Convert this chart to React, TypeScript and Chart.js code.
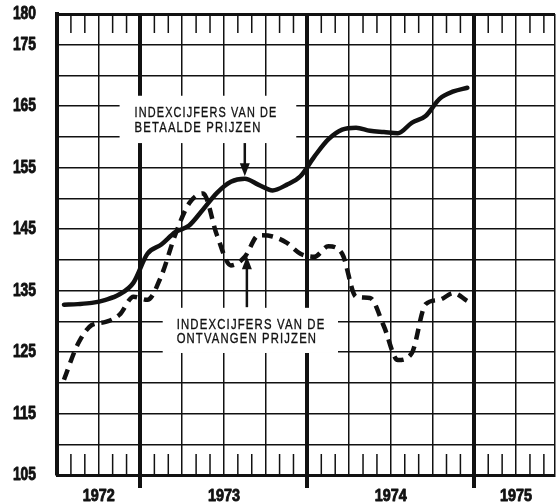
import React, { useEffect, useRef } from "react";
import { Chart, registerables } from "chart.js";

Chart.register(...registerables);

// Month positions (0 = 1 July 1972), one value per month, mid-month
const monthPos = [
  0.5, 1.5, 2.5, 3.5, 4.5, 5.5, 6.5, 7.5, 8.5, 9.5, 10.5, 11.5, 12.5, 13.5, 14.5,
  15.5, 16.5, 17.5, 18.5, 19.5, 20.5, 21.5, 22.5, 23.5, 24.5, 25.5, 26.5, 27.5, 28.5, 29.5,
];

// Indexcijfers van de betaalde prijzen (solid)
const betaaldePrijzen = [
  132.7, 132.8, 133.0, 133.5, 134.4, 136.3, 141.0, 142.5, 144.5, 145.6, 148.2, 150.9, 152.7, 153.2, 152.2,
  151.3, 152.2, 153.6, 156.8, 159.6, 161.2, 161.5, 161.0, 160.8, 160.6, 162.3, 163.4, 166.2, 167.4, 168.0,
];

// Indexcijfers van de ontvangen prijzen (dashed)
const ontvangenPrijzen = [
  120.5, 126.3, 129.4, 129.9, 131.1, 134.0, 133.5, 137.4, 144.1, 149.2, 150.8, 144.0, 139.1, 140.5, 144.0,
  143.8, 142.8, 141.0, 140.5, 142.2, 141.0, 134.0, 133.8, 129.2, 123.7, 124.8, 132.8, 133.5, 134.6, 133.3,
];

const yearLabels = ["1972", "1973", "1974", "1975"];
const yearLabelMonths = [3, 12, 24, 33];
const yearStartMonths = [6, 18, 30];
const yTickLabels = [105, 115, 125, 135, 145, 155, 165, 175, 180];
const yGridValues = [105, 110, 115, 120, 125, 130, 135, 140, 145, 150, 155, 160, 165, 170, 175, 180];

const captionBetaald = ["INDEXCIJFERS VAN DE", "BETAALDE PRIJZEN"];
const captionOntvangen = ["INDEXCIJFERS VAN DE", "ONTVANGEN PRIJZEN"];

const X_MIN = 0;
const X_MAX = 35.8;
const Y_MIN = 105;
const Y_MAX = 180;

const SANS = "'Liberation Sans', 'DejaVu Sans', sans-serif";
const INK = "#111";

type Caption = {
  lines: string[];
  box: [number, number, number, number];
  textLeft: number;
  textRights: number[];
  textYs: number[];
  arrowX: number;
  arrowFrom: number;
  arrowTo: number;
};

const captions: Caption[] = [
  {
    lines: captionBetaald,
    box: [4.5, 166.7, 17.2, 159.0],
    textLeft: 5.58,
    textRights: [15.85, 14.7],
    textYs: [163.9, 161.45],
    arrowX: 13.5,
    arrowFrom: 159.0,
    arrowTo: 153.6,
  },
  {
    lines: captionOntvangen,
    box: [7.6, 132.2, 20.2, 124.85],
    textLeft: 8.6,
    textRights: [19.3, 18.7],
    textYs: [129.4, 127.1],
    arrowX: 13.65,
    arrowFrom: 132.3,
    arrowTo: 140.6,
  },
];

// draw text squeezed horizontally to a given width
function squeezed(
  ctx: CanvasRenderingContext2D,
  text: string,
  x: number,
  y: number,
  width: number,
  align: "left" | "right" | "center",
  stroke = 0
) {
  const w = ctx.measureText(text).width;
  const sx = width / w;
  const left = align === "left" ? x : align === "right" ? x - width : x - width / 2;
  ctx.save();
  ctx.translate(left, y);
  ctx.scale(sx, 1);
  ctx.textAlign = "left";
  ctx.textBaseline = "middle";
  ctx.fillText(text, 0, 0);
  if (stroke > 0) {
    ctx.lineWidth = stroke;
    ctx.strokeStyle = INK;
    ctx.lineJoin = "round";
    ctx.strokeText(text, 0, 0);
  }
  ctx.restore();
}

const overlayPlugin = {
  id: "overlay",
  beforeDatasetsDraw(chart: any) {
    const { ctx, chartArea: a } = chart;
    const xs = chart.scales.x;
    const ys = chart.scales.y;
    ctx.save();
    ctx.strokeStyle = INK;
    ctx.fillStyle = INK;
    ctx.lineWidth = 1.5;
    // month tick marks in the top and bottom bands
    for (let m = 1; m < 36; m++) {
      if (m % 3 === 0) continue;
      const px = xs.getPixelForValue(m);
      if (px > a.right - 2) continue;
      ctx.beginPath();
      ctx.moveTo(px, a.top);
      ctx.lineTo(px, a.top + 19);
      ctx.moveTo(px, a.bottom - 21);
      ctx.lineTo(px, a.bottom);
      ctx.stroke();
    }
    for (const c of captions) {
      const bx1 = xs.getPixelForValue(c.box[0]);
      const by1 = ys.getPixelForValue(c.box[1]);
      const bx2 = xs.getPixelForValue(c.box[2]);
      const by2 = ys.getPixelForValue(c.box[3]);
      ctx.fillStyle = "#fff";
      ctx.fillRect(bx1, by1, bx2 - bx1, by2 - by1);
      ctx.fillStyle = INK;
      ctx.font = `14.5px ${SANS}`;
      (ctx as any).letterSpacing = "1.5px";
      c.lines.forEach((line, i) => {
        const left = xs.getPixelForValue(c.textLeft);
        const right = xs.getPixelForValue(c.textRights[i]);
        const yc = ys.getPixelForValue(c.textYs[i]);
        squeezed(ctx, line, left, yc, right - left, "left", 0.35);
      });
      (ctx as any).letterSpacing = "0px";
      // arrow
      const ax = xs.getPixelForValue(c.arrowX);
      const ay1 = ys.getPixelForValue(c.arrowFrom);
      const ay2 = ys.getPixelForValue(c.arrowTo);
      const dir = ay2 > ay1 ? 1 : -1;
      ctx.strokeStyle = INK;
      ctx.lineWidth = 2.5;
      ctx.beginPath();
      ctx.moveTo(ax, ay1);
      ctx.lineTo(ax, ay2 - dir * 10);
      ctx.stroke();
      ctx.beginPath();
      ctx.moveTo(ax, ay2);
      ctx.lineTo(ax - 5, ay2 - dir * 13);
      ctx.lineTo(ax + 5, ay2 - dir * 13);
      ctx.closePath();
      ctx.fill();
      ctx.lineWidth = 1.5;
    }
    ctx.restore();
  },
  afterDraw(chart: any) {
    const { ctx, chartArea: a } = chart;
    const xs = chart.scales.x;
    const ys = chart.scales.y;
    ctx.save();
    ctx.fillStyle = INK;
    ctx.font = `bold 18px ${SANS}`;
    // y axis labels
    for (const v of yTickLabels) {
      const py = ys.getPixelForValue(v);
      const txt = String(v);
      squeezed(ctx, txt, a.left - 21, py, txt.length * 7.7, "right", 0.9);
    }
    // year labels
    ctx.font = `bold 17px ${SANS}`;
    yearLabels.forEach((lab, i) => {
      const px = xs.getPixelForValue(yearLabelMonths[i]);
      squeezed(ctx, lab, px, a.bottom + 21, lab.length * 8, "center", 0.9);
    });
    ctx.restore();
  },
};

export default function App() {
  const canvasRef = useRef<HTMLCanvasElement | null>(null);

  useEffect(() => {
    const canvas = canvasRef.current;
    if (!canvas) return;
    const chart = new Chart(canvas, {
      type: "line",
      data: {
        datasets: [
          {
            label: "Indexcijfers van de betaalde prijzen",
            data: monthPos.map((m, i) => ({ x: m, y: betaaldePrijzen[i] })),
            borderColor: INK,
            borderWidth: 4.5,
            pointRadius: 0,
            cubicInterpolationMode: "monotone",
            borderCapStyle: "round",
            borderJoinStyle: "round",
            fill: false,
          },
          {
            label: "Indexcijfers van de ontvangen prijzen",
            data: monthPos.map((m, i) => ({ x: m, y: ontvangenPrijzen[i] })),
            borderColor: INK,
            borderWidth: 4.5,
            borderDash: [11, 7],
            pointRadius: 0,
            cubicInterpolationMode: "monotone",
            borderCapStyle: "butt",
            fill: false,
          },
        ],
      },
      options: {
        responsive: false,
        animation: false,
        devicePixelRatio: 1,
        layout: { padding: { top: 14, right: 3, left: 0, bottom: 0 } },
        plugins: { legend: { display: false }, tooltip: { enabled: false } },
        scales: {
          x: {
            type: "linear",
            min: X_MIN,
            max: X_MAX,
            afterBuildTicks: (s: any) => {
              const t: any[] = [];
              for (let m = 0; m < 36; m++) t.push({ value: m });
              t.push({ value: X_MAX });
              s.ticks = t;
            },
            afterFit: (s: any) => {
              s.height = 28;
              s.paddingLeft = 0;
              s.paddingRight = 0;
              s.paddingTop = 0;
              s.paddingBottom = 0;
            },
            grid: {
              drawTicks: true,
              tickLength: 13,
              color: (c: any) => {
                const v = c.tick?.value;
                if (v === X_MAX) return INK;
                return v % 3 === 0 ? INK : "rgba(0,0,0,0)";
              },
              lineWidth: (c: any) => (yearStartMonths.includes(c.tick?.value) ? 4 : 1.5),
              tickColor: (c: any) => (yearStartMonths.includes(c.tick?.value) ? INK : "rgba(0,0,0,0)"),
              tickWidth: 4,
            },
            border: { display: true, width: 3, color: INK },
            ticks: { display: false },
          },
          y: {
            type: "linear",
            min: Y_MIN,
            max: Y_MAX,
            afterBuildTicks: (s: any) => {
              s.ticks = yGridValues.map((v) => ({ value: v }));
            },
            afterFit: (s: any) => {
              s.width = 57;
              s.paddingLeft = 0;
              s.paddingRight = 0;
              s.paddingTop = 0;
              s.paddingBottom = 0;
            },
            grid: {
              drawTicks: false,
              color: INK,
              lineWidth: (c: any) => (c.tick?.value === Y_MAX ? 3 : 1.5),
            },
            border: { display: true, width: 4, color: INK },
            ticks: { display: false },
          },
        },
      },
      plugins: [overlayPlugin],
    } as any);
    return () => chart.destroy();
  }, []);

  return (
    <div style={{ position: "fixed", left: 0, top: 0, width: 558, height: 503, background: "#fff" }}>
      <canvas ref={canvasRef} width={558} height={503} style={{ display: "block" }} />
    </div>
  );
}
